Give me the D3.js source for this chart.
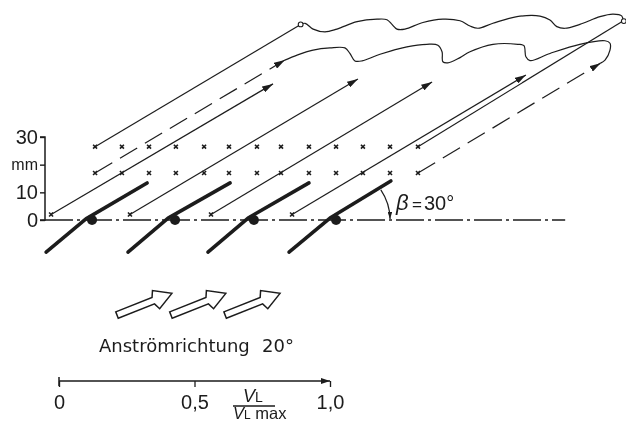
<!DOCTYPE html>
<html><head><meta charset="utf-8">
<script src="https://cdn.jsdelivr.net/npm/d3@7"></script>
<style>html,body{margin:0;padding:0;background:#fff}svg{display:block}
text{font-family:"Liberation Sans",Arial,sans-serif;fill:#1c1c1c}</style></head>
<body><svg id="c" width="626" height="423"></svg>
<script>
// measurement grid (mm)
const gridX = [18.1,27.8,37.6,47.3,57.5,66.5,76.6,85.3,95.4,105.2,114.9,124.7,134.8];
const gridRows = [26.5,17];
const leadingX = [2.2,30.7,60,89.3];
const leadingY = 2;
const yTicks = [0,10,20,30];
const yTickLabels = ["0","10","mm","30"];
// blades: kinked polylines of [x,y], pivot x
const blades = [
  [[0.4,-11.6],[14.8,0.4],[36.9,13.4]],
  [[30,-11.6],[44.5,0.7],[66.9,13.4]],
  [[58.9,-11.6],[73.4,0.7],[95.4,13.4]],
  [[88.2,-11.6],[103,0.7],[125,14.1]]];
const pivots = [17,47,75.5,105.2];
// vectors: [x0,y0,x1,y1]
const solidArrows = [[2.2,2,82.4,49.2],[30.7,2,113.1,51],[60,2,139.9,49.9],[89.3,2,173.8,52.4]];
const solidOpen = [[18.1,26.5,92.4,70.7],[134.8,26.5,208.9,71.9]];
const dashedArrows = [[18.1,17,86.7,57.8],[134.8,17,200.8,56.7]];
const openEnds = [[92.4,70.7],[209.2,71.9]];
const wakeTop = [[92.4,70.7],[94,71.1],[96.9,69],[101.2,68],[105.5,69],[112.8,71.7],[120,72.6],[123.6,72.4],[125.4,70.7],[127.2,69],[130.1,69],[136.6,71.4],[143.8,72.6],[150,72],[153.6,70.1],[156.5,69.3],[161.9,71.1],[170.6,73.5],[178.9,73.7],[182.5,72.3],[185,69.9],[187.9,69.3],[193.3,70.7],[200.6,73.5],[205.3,74.4],[208.5,73.7],[208.9,71.9]];
const wakeBottom = [[86.7,57.8],[91.1,59.6],[96.9,61.4],[103,62.2],[108.4,62.2],[110.2,60.2],[112,57.5],[114.6,57.5],[121.1,59.9],[130.8,62.6],[138,63.5],[142,63.2],[143.5,60.8],[143.8,57.2],[145.6,56.8],[150,58.7],[153.6,60.8],[161.9,63.5],[170.9,63.5],[173.1,63],[173.8,59],[175.3,57.6],[182.5,60.2],[193.3,63.5],[202.4,64.8],[204.2,63.9],[204.2,61.4],[202.4,57.8],[200.8,56.7]];
const baselineExtent = [0,188];
// velocity scale
const vTicks = [0,0.5,1];
const vTickLabels = ["0","0,5","1,0"];
const inflowStarts = [0.214,0.413,0.613];
const inflowAngle = 21.5;
const arcAngle = 34;

const ink = "#1c1c1c";
const svg = d3.select("#c");
const x = d3.scaleLinear().domain([0,190]).range([45,570.7]);
const y = d3.scaleLinear().domain([0,30]).range([220,137]);
const v = d3.scaleLinear().domain([0,1]).range([59,330]);

const defs = svg.append("defs");
defs.append("filter").attr("id","soft").append("feGaussianBlur").attr("stdDeviation",0.4);
[["head",11,6.5],["headS",7,4.5]].forEach(([id,l,w])=>{
  defs.append("marker").attr("id",id).attr("markerUnits","userSpaceOnUse")
    .attr("markerWidth",l).attr("markerHeight",w).attr("refX",l).attr("refY",w/2)
    .attr("orient","auto").attr("viewBox",`0 0 ${l} ${w}`)
    .append("path").attr("d",`M0,0L${l},${w/2}L0,${w}Z`).attr("fill",ink);
});
const g = svg.append("g").attr("filter","url(#soft)");
const seg = (sel,data,w)=>sel.selectAll(null).data(data).join("line")
  .attr("x1",d=>x(d[0])).attr("y1",d=>y(d[1])).attr("x2",d=>x(d[2])).attr("y2",d=>y(d[3]))
  .attr("stroke",ink).attr("stroke-width",w);

// y axis
const ya = g.append("g").attr("transform",`translate(${x(0)},0)`)
  .call(d3.axisLeft(y).tickValues(yTicks).tickSize(5).tickPadding(2).tickFormat((d,i)=>yTickLabels[i]));
ya.select(".domain").attr("stroke",ink).attr("stroke-width",1.5).attr("d",`M-5,${y(30)}H0V${y(0)}H-5`);
ya.selectAll(".tick line").attr("stroke",ink).attr("stroke-width",1.4);
ya.selectAll("text").attr("font-family",'"Liberation Sans"').attr("font-size",20).attr("fill",ink);
ya.selectAll(".tick").filter(d=>d===20).select("text").attr("font-size",16);

// baseline
g.append("line").attr("x1",x(baselineExtent[0])).attr("x2",x(baselineExtent[1])).attr("y1",y(0)).attr("y2",y(0))
  .attr("stroke",ink).attr("stroke-width",1.5).attr("stroke-dasharray","28 4 3 4");

// blades
const poly = d3.line().x(d=>x(d[0])).y(d=>y(d[1]));
g.append("g").selectAll("path").data(blades).join("path").attr("d",poly)
  .attr("fill","none").attr("stroke",ink).attr("stroke-width",3.6).attr("stroke-linecap","round").attr("stroke-linejoin","round");
g.append("g").selectAll("circle").data(pivots).join("circle")
  .attr("cx",d=>x(d)).attr("cy",y(0)).attr("r",5).attr("fill",ink);

// vectors
seg(g.append("g"),solidOpen,1.2);
seg(g.append("g"),solidArrows,1.2).attr("marker-end","url(#head)");
seg(g.append("g"),dashedArrows,1.2).attr("stroke-dasharray","20 9").attr("marker-end","url(#head)");

// wakes
const curve = d3.line().x(d=>x(d[0])).y(d=>y(d[1])).curve(d3.curveCatmullRom.alpha(0.5));
[wakeTop,wakeBottom].forEach(w=>g.append("path").attr("d",curve(w)).attr("fill","none").attr("stroke",ink).attr("stroke-width",1.2));
g.append("g").selectAll("circle").data(openEnds).join("circle")
  .attr("cx",d=>x(d[0])).attr("cy",d=>y(d[1])).attr("r",2.4).attr("fill","#fff").attr("stroke",ink).attr("stroke-width",1.1);

// crosses
const cross = d3.symbol().type(d3.symbolTimes).size(12);
const pts = gridRows.flatMap(r=>gridX.map(px=>[px,r])).concat(leadingX.map(px=>[px,leadingY]));
g.append("g").selectAll("path").data(pts).join("path").attr("d",cross)
  .attr("transform",d=>`translate(${x(d[0])},${y(d[1])})`).attr("stroke",ink).attr("stroke-width",1.6).attr("fill","none");

// beta arc
const pv = pivots[3], rr = 54, arc = d3.path();
arc.arc(x(pv),y(0),rr,-arcAngle*Math.PI/180,-0.02,false);
g.append("path").attr("d",arc.toString()).attr("fill","none").attr("stroke",ink).attr("stroke-width",1.2)
  .attr("marker-end","url(#headS)");
const bt = g.append("text").attr("x",396).attr("y",210).attr("font-size",20);
bt.append("tspan").text("β").attr("font-style","italic").attr("font-size",22);
bt.append("tspan").text("=").attr("x",412).attr("font-size",17);
bt.append("tspan").text("30°").attr("x",424);

// inflow arrows
const L=59, hl=17, sw=3.4, hw=9.8;
const shape = `M0,${-sw}L${L-hl-3},${-sw}L${L-hl},${-hw}L${L},0L${L-hl},${hw}L${L-hl-3},${sw}L0,${sw}Z`;
g.append("g").selectAll("path").data(inflowStarts).join("path").attr("d",shape)
  .attr("transform",d=>`translate(${v(d)},315) rotate(${-inflowAngle})`)
  .attr("fill","#fff").attr("stroke",ink).attr("stroke-width",1.5).attr("stroke-linejoin","miter");
const an = g.append("text").attr("y",352).attr("font-size",18).style("font-family",'"DejaVu Sans"');
an.append("tspan").attr("x",99).text("Anströmrichtung");
an.append("tspan").attr("x",262).text("20°");

// velocity axis
const va = g.append("g").attr("transform","translate(0,381)")
  .call(d3.axisBottom(v).tickValues(vTicks).tickSize(6).tickPadding(8).tickFormat((d,i)=>vTickLabels[i]));
va.select(".domain").attr("stroke",ink).attr("stroke-width",1.5).attr("d",`M${v(0)},-4V5M${v(0)},0H${v(1)}`);
va.selectAll(".tick line").attr("stroke",ink).attr("stroke-width",1.3);
va.selectAll("text").attr("font-family",'"Liberation Sans"').attr("font-size",20).attr("fill",ink);
va.append("path").attr("d",`M${v(1)-9},-3L${v(1)},0L${v(1)-9},3Z`).attr("fill",ink);

// fraction label
const f1 = g.append("text").attr("x",243).attr("y",402).attr("font-size",18);
f1.append("tspan").text("V").attr("font-style","italic");
f1.append("tspan").text("L").attr("font-size",14);
g.append("line").attr("x1",233).attr("x2",275).attr("y1",406).attr("y2",406).attr("stroke",ink).attr("stroke-width",1.3);
const f2 = g.append("text").attr("x",233).attr("y",419).attr("font-size",16.5);
f2.append("tspan").text("V").attr("font-style","italic");
f2.append("tspan").text("L").attr("font-size",12);
f2.append("tspan").text(" max");
</script></body></html>
